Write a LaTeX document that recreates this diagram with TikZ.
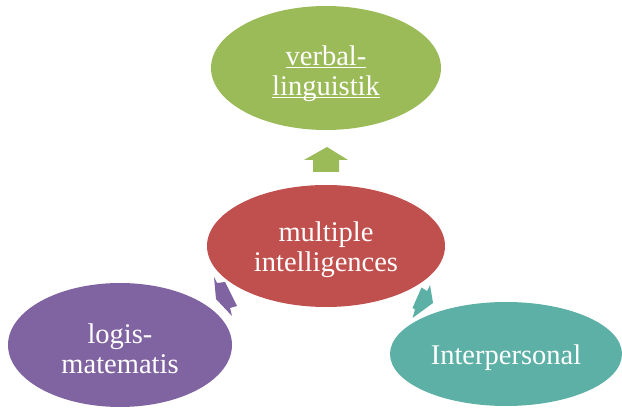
\documentclass[tikz,border=0pt]{standalone}
\usepackage{fontspec}
\setmainfont{Liberation Serif}
\usetikzlibrary{shapes.geometric}
\definecolor{leafgreen}{RGB}{155,187,89}
\definecolor{brickred}{RGB}{192,80,77}
\definecolor{plumpurple}{RGB}{128,100,162}
\definecolor{seateal}{RGB}{93,176,165}
\newcommand\ulword[1]{\setbox0\hbox{#1}\rlap{\rule[-2.5pt]{\wd0}{1.3pt}}\box0}

\tikzset{
  bubble/.style={ellipse, inner sep=0pt},
  bubbletext/.style={text=white, align=center,
    font=\fontsize{28.5}{30}\selectfont}
}

\begin{document}
\begin{tikzpicture}[x=1pt, y=-1pt]
            \useasboundingbox (0,0) rectangle (622,409);

            % Blockpfeile
            \fill[leafgreen] (327,147) -- (348,160) -- (339,160) -- (339,172)
                -- (313,172) -- (313,160) -- (304,160) -- cycle;
            \fill[plumpurple] (214,277) -- (217,283) -- (225,282) -- (237,306)
                -- (230,308) -- (232,316) -- (216,299) -- cycle;
            \fill[seateal] (430,285) -- (427,291) -- (421.5,287.5) -- (412.5,308)
                -- (415,309.5) -- (412.5,318) -- (433,303) -- cycle;

            % Ellipsen
            \node[bubble, fill=leafgreen, minimum width=230pt, minimum height=124pt]
                (verbal) at (326,68) {};
            \node[bubble, fill=brickred, minimum width=238pt, minimum height=122pt]
                (center) at (326,246) {};
            \node[bubble, fill=plumpurple, minimum width=224pt, minimum height=124pt]
                (logis) at (120,345) {};
            \node[bubble, fill=seateal, minimum width=232pt, minimum height=104pt]
                (inter) at (506,354) {};

            % Texte
            \node[bubbletext] (verbaltext) at ([yshift=-6pt]verbal.center)
                {\ulword{verbal-}\\\ulword{linguistik}};
            \node[bubbletext] (centertext) at ([yshift=-4pt]center.center)
                {multiple\\intelligences};
            \node[bubbletext] (logistext) at ([yshift=-4pt]logis.center)
                {logis-\\matematis};
            \node[bubbletext] (intertext) at ([yshift=-4pt]inter.center)
                {Interpersonal};
        \end{tikzpicture}
\end{document}
